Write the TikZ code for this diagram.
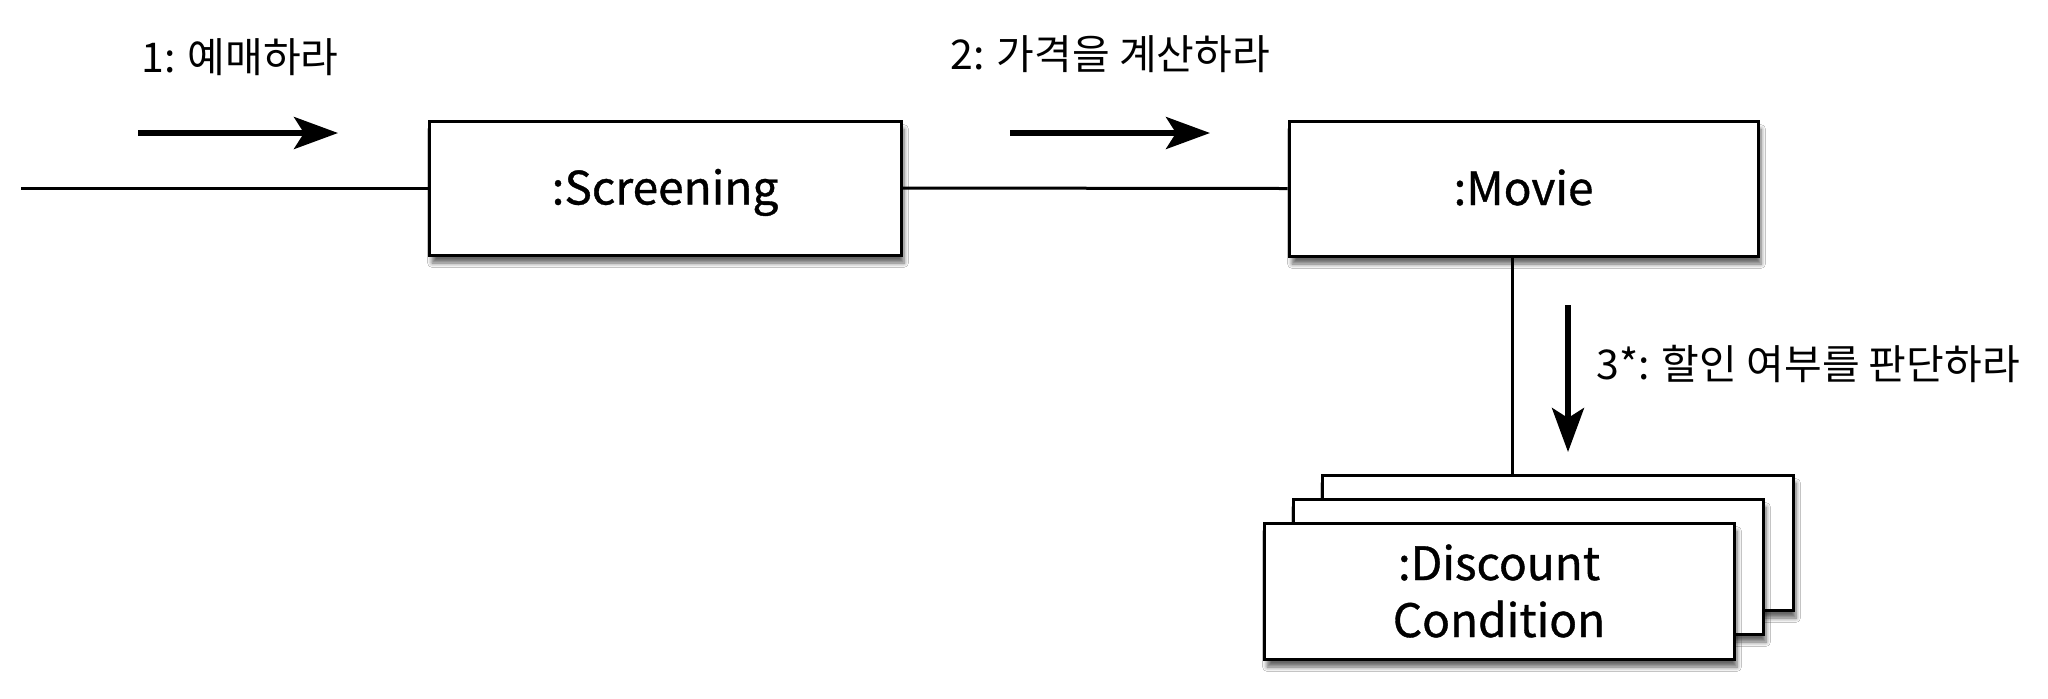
\documentclass[tikz,border=0pt]{standalone}
\usepackage{fontspec}
\setmainfont{Noto Sans CJK KR}
\newfontfamily\boxfont[FakeBold=0.8]{Noto Sans CJK KR}
\usetikzlibrary{arrows.meta,shadows.blur}
\tikzset{
  obj/.style={draw=black, line width=1.5pt, fill=white, align=center,
    font=\boxfont\fontsize{23pt}{28.5pt}\selectfont, inner sep=0pt,
    blur shadow={shadow xshift=1.5pt, shadow yshift=-4pt, shadow blur steps=6, shadow opacity=60}},
  conn/.style={line width=1.5pt},
  msg/.style={line width=2.6pt, -{Stealth[length=22pt,width=16pt,inset=5pt]}},
  lbl/.style={font=\fontsize{20.5pt}{24pt}\selectfont, inner sep=0pt, text height=14pt, text depth=0pt}
}
\begin{document}
\begin{tikzpicture}[x=0.5pt,y=-0.5pt]
\useasboundingbox (0,0) rectangle (2048,698);
\fill[white] (0,0) rectangle (2048,698);
% objects
\node[obj, minimum width=236pt, minimum height=67pt, text height=16.5pt, text depth=0pt] (screening) at (665,188) {:Screening};
\node[obj, minimum width=234.5pt, minimum height=67.5pt, text height=16.5pt, text depth=0pt] (movie) at (1523.5,188.5) {:Movie};
\node[obj, minimum width=235.5pt, minimum height=67.5pt] (disc3) at (1557.5,542.5) {};
\node[obj, minimum width=235pt, minimum height=67.5pt] (disc2) at (1528,566.5) {};
\node[obj, minimum width=235pt, minimum height=68pt] (disc1) at (1499,591) {:Discount\\Condition};
% links
\coordinate (start) at (21,188);
\coordinate (mx) at (1512,0);
\draw[conn] (start) -- (screening.west);
\draw[conn] (screening.east) -- (movie.west);
\draw[conn] (movie.south -| mx) -- (disc3.north -| mx);
% messages
\coordinate (a1s) at (138,133); \coordinate (a1e) at (338,133);
\coordinate (a2s) at (1010,133); \coordinate (a2e) at (1210,133);
\coordinate (a3s) at (1568,305); \coordinate (a3e) at (1568,452);
\draw[msg] (a1s) -- (a1e);
\draw[msg] (a2s) -- (a2e);
\draw[msg] (a3s) -- (a3e);
\node[lbl, anchor=west] (l1) at (141,58) {1: 예매하라};
\node[lbl, anchor=west] (l2) at (950,55) {2: 가격을 계산하라};
\node[lbl, anchor=west] (l3) at (1596,365) {3*: 할인 여부를 판단하라};
\end{tikzpicture}
\end{document}
